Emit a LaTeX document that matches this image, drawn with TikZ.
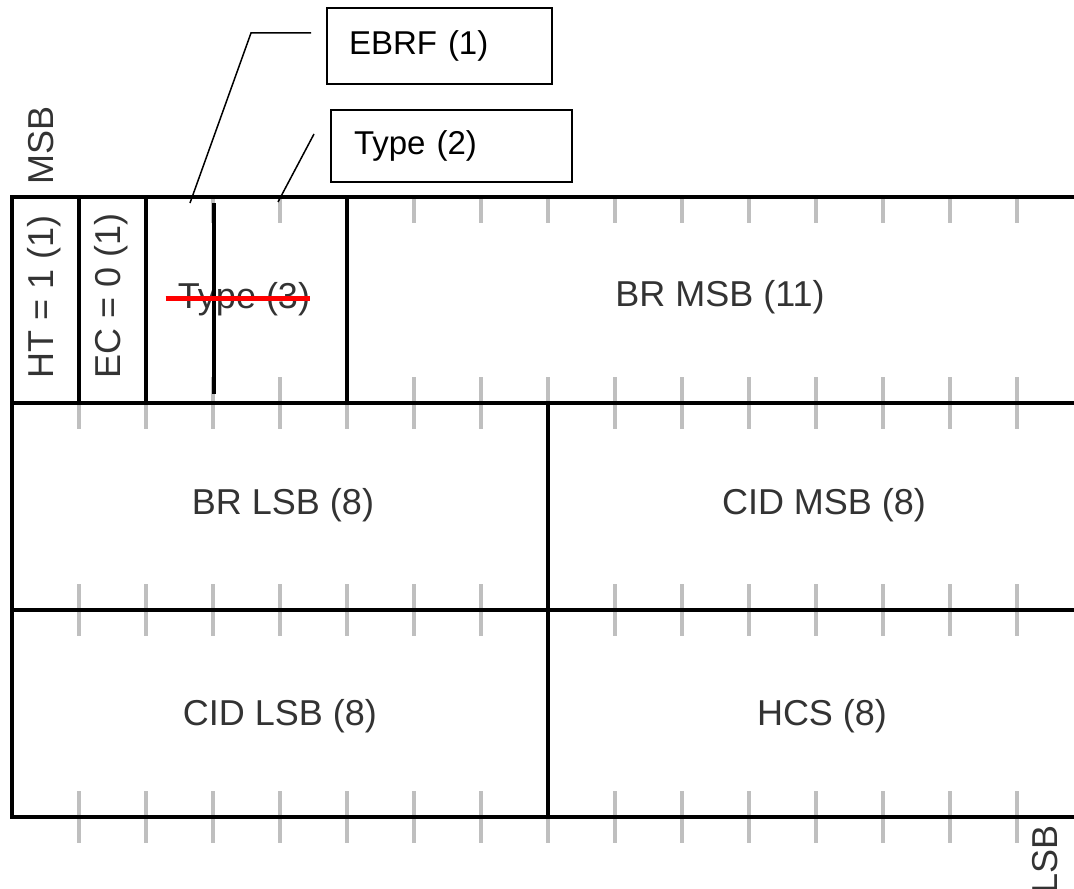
\documentclass[tikz,border=0pt]{standalone}
\usepackage{fontspec}
\setmainfont{Liberation Sans}
\begin{document}
\begin{tikzpicture}[x=0.5pt,y=-0.5pt,
    frame/.style={line width=2pt},
    bittick/.style={draw=black!25,line width=1.6pt},
    field/.style={inner sep=0pt,text=black!80,font=\fontsize{18}{20}\selectfont},
    callout/.style={draw,line width=1pt,anchor=north west,align=left,inner xsep=11pt,font=\fontsize{16.5}{18}\selectfont},
    leader/.style={line width=0.75pt}]
  \useasboundingbox (0,0) rectangle (1074,888);
  % bit ticks
  \foreach \i in {1,...,15}{
    \draw[bittick] (12+67*\i,197) -- ++(0,26);
    \foreach \y in {403,610,817}
      \draw[bittick] (12+67*\i,\y-26) -- (12+67*\i,\y+26);
  }
  % frame
  \draw[frame] (1090,197) -- (12,197) -- (12,817) -- (1090,817);
  \draw[frame] (12,403) -- (1090,403) (12,610) -- (1090,610);
  \draw[frame] (79,197) -- (79,403) (146,197) -- (146,403) (347,197) -- (347,403);
  \draw[frame] (548,403) -- (548,817);
  % fields
  \node[field,rotate=90] (ht) at (44,297) {HT = 1 (1)};
  \node[field,rotate=90] (ec) at (111,296) {EC = 0 (1)};
  \node[field,anchor=base] (type3) at (244,308) {Type (3)};
  \node[field,anchor=base] (brmsb) at (720,306) {BR MSB (11)};
  \node[field,anchor=base] (brlsb) at (283,514) {BR LSB (8)};
  \node[field,anchor=base] (cidmsb) at (824,514) {CID MSB (8)};
  \node[field,anchor=base] (cidlsb) at (280,725) {CID LSB (8)};
  \node[field,anchor=base] (hcs) at (822,725) {HCS (8)};
  \node[field,rotate=90,anchor=base west] (msb) at (53,185) {MSB};
  \node[field,rotate=90,anchor=base east] (lsb) at (1057,825) {LSB};
  % edits
  \draw[frame] (214,203) -- (214,394);
  \draw[red,line width=2.5pt] ([xshift=-6pt]type3.west) -- (type3.east);
  % callouts
  \node[callout,minimum width=112.5pt,minimum height=38pt,text width=90.5pt] (ebrf) at (326,7) {EBRF (1)};
  \node[callout,minimum width=120.5pt,minimum height=36pt,text width=97.5pt] (type2) at (330,109) {Type (2)};
  \coordinate (ebrf-tip) at (190,203);
  \coordinate (type2-tip) at (278,202);
  \draw[leader] ([xshift=-7.5pt,yshift=6.5pt]ebrf.west) -- ++(-60,0) -- (ebrf-tip);
  \draw[leader] ([xshift=-8pt,yshift=6pt]type2.west) -- (type2-tip);
\end{tikzpicture}
\end{document}
